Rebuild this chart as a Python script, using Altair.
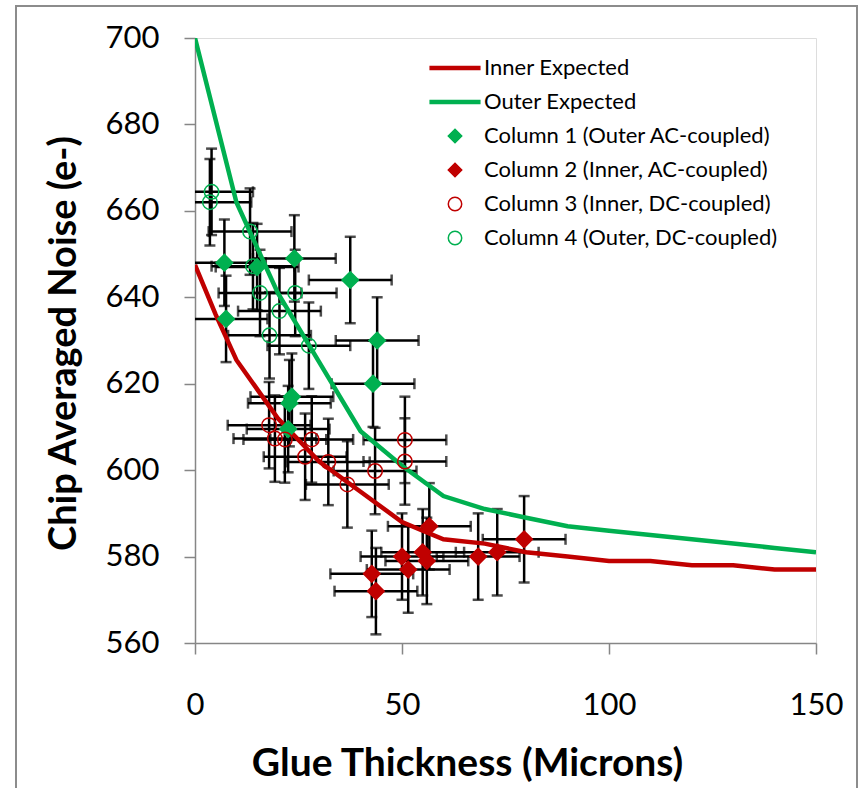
import altair as alt
import pandas as pd

# ---- expected curves ----
inner_x = [0, 5, 10, 20, 30, 40, 50, 60, 70, 80, 90, 100, 110, 120, 130, 140, 150]
inner_y = [647.5, 636, 625.5, 612, 602, 595, 588, 584, 583, 581, 580, 579, 579, 578, 578, 577, 577]
outer_x = [0, 10, 20, 30, 40, 50, 60, 70, 80, 90, 100, 110, 120, 130, 140, 150]
outer_y = [700, 662, 641, 625, 609, 601, 594, 591, 589, 587, 586, 585, 584, 583, 582, 581]

# ---- measured columns ----
col1_x = [7.1, 7.5, 15, 24, 37.5, 44, 43, 23.4, 22.8, 22.5]
col1_y = [648, 635, 647, 649, 644, 630, 620, 617, 615.5, 609.5]
col1_xerr = [10, 10, 10, 10, 10, 10, 10, 10, 10, 10]
col1_yerr = [10, 10, 10, 10, 10, 10, 10, 10, 10, 10]

col2_x = [42.7, 43.7, 50, 51.5, 55, 56, 56.6, 68.4, 73, 79.5]
col2_y = [576, 572, 580, 577, 581, 579, 587, 580, 581, 584]
col2_xerr = [10, 10, 10, 10, 10, 10, 10, 10, 10, 10]
col2_yerr = [10, 10, 10, 10, 10, 10, 10, 10, 10, 10]

col3_x = [17.9, 19.3, 21.7, 28.2, 26.6, 32.2, 36.8, 43.5, 50.7, 50.7]
col3_y = [610.4, 607.3, 607.1, 607.1, 603.1, 601.9, 596.7, 599.8, 607, 602]
col3_xerr = [10, 10, 10, 10, 10, 10, 10, 10, 10, 10]
col3_yerr = [10, 10, 10, 10, 10, 10, 10, 10, 10, 10]

col4_x = [4, 3.6, 13.3, 14, 15.7, 24.2, 20.4, 18, 27.5]
col4_y = [664.4, 662, 655.2, 647.2, 641, 641, 636.8, 631.2, 628.8]
col4_xerr = [10, 10, 10, 10, 10, 10, 10, 10, 10]
col4_yerr = [10, 10, 10, 10, 10, 10, 10, 10, 10]

series_names = [
    "Inner Expected",
    "Outer Expected",
    "Column 1 (Outer AC-coupled)",
    "Column 2 (Inner, AC-coupled)",
    "Column 3 (Inner, DC-coupled)",
    "Column 4 (Outer, DC-coupled)",
]

GREEN = "#00B050"
RED = "#C00000"
GRAY = "#868686"
FONT = "Lato"

# ---- tables ----
curves = pd.concat([
    pd.DataFrame({"x": inner_x, "y": inner_y, "series": series_names[0]}),
    pd.DataFrame({"x": outer_x, "y": outer_y, "series": series_names[1]}),
])

cols = []
for name, xs, ys, xe, ye in [
    (series_names[2], col1_x, col1_y, col1_xerr, col1_yerr),
    (series_names[3], col2_x, col2_y, col2_xerr, col2_yerr),
    (series_names[4], col3_x, col3_y, col3_xerr, col3_yerr),
    (series_names[5], col4_x, col4_y, col4_xerr, col4_yerr),
]:
    d = pd.DataFrame({"x": xs, "y": ys, "xe": xe, "ye": ye})
    d["series"] = name
    cols.append(d)
pts = pd.concat(cols, ignore_index=True)
pts["xlo"] = pts["x"] - pts["xe"]
pts["xhi"] = pts["x"] + pts["xe"]
pts["ylo"] = pts["y"] - pts["ye"]
pts["yhi"] = pts["y"] + pts["ye"]

W, H = 621, 605
PAD_L, PAD_T = 195, 38

xscale = alt.Scale(domain=[0, 150], nice=False, zero=False)
yscale = alt.Scale(domain=[560, 700], nice=False, zero=False)

xaxis = alt.Axis(
    values=[0, 50, 100, 150], grid=False, title="Glue Thickness (Microns)",
    domainColor=GRAY, domainWidth=1.5, tickColor=GRAY, tickWidth=1.5, tickSize=11,
    labelFont=FONT, labelFontSize=31, labelColor="black", labelPadding=36,
    labelFlush=False, labelOverlap=False,
    titleFont=FONT, titleFontSize=39, titleFontWeight="bold", titleColor="black",
    titleX=272, titleY=132, titleBaseline="alphabetic", titleAlign="center",
)
yaxis = alt.Axis(
    values=[560, 580, 600, 620, 640, 660, 680, 700], grid=False,
    title="Chip Averaged Noise (e-)",
    domainColor=GRAY, domainWidth=1.5, tickColor=GRAY, tickWidth=1.5, tickSize=11,
    labelFont=FONT, labelFontSize=31, labelColor="black", labelPadding=25,
    labelFlush=False, labelOverlap=False,
    titleFont=FONT, titleFontSize=38, titleFontWeight="bold", titleColor="black",
    titleX=-120, titleY=305, titleBaseline="alphabetic", titleAlign="center", titleAngle=270,
)

SYM = 180
legend = alt.Legend(
    title=None, orient="none", legendX=234, legendY=13.25, padding=0,
    labelFont=FONT, labelFontSize=22, labelColor="black", labelLimit=400,
    symbolSize=SYM, symbolStrokeWidth=1.5, clipHeight=33.5, rowPadding=0,
    labelOffset=18, symbolOffset=15,
)

LINE_PATH = "M-3.7,-0.22H3.7V0.22H-3.7Z"
stroke_enc = alt.Stroke("series:N", scale=alt.Scale(domain=series_names,
                        range=[RED, GREEN, GREEN, RED, RED, GREEN]), legend=legend)
fill_enc = alt.Fill("series:N", scale=alt.Scale(domain=series_names,
                    range=[RED, GREEN, GREEN, RED, "transparent", "transparent"]), legend=legend)
shape_enc = alt.Shape("series:N", scale=alt.Scale(domain=series_names,
                      range=[LINE_PATH, LINE_PATH, "diamond", "diamond", "circle", "circle"]), legend=legend)

X = lambda f: alt.X(f, type="quantitative", scale=xscale, axis=xaxis)
Y = lambda f: alt.Y(f, type="quantitative", scale=yscale, axis=yaxis)

base = alt.Chart(pts)
BW = 2.5

hbar = base.mark_rule(color="black", strokeWidth=BW, clip=True).encode(
    x=X("xlo"), x2="xhi", y=Y("y"))
vbar = base.mark_rule(color="black", strokeWidth=BW, clip=True).encode(
    x=X("x"), y=Y("ylo"), y2="yhi")
cap_l = base.mark_tick(orient="vertical", size=11, thickness=BW, color="black", clip=True).encode(
    x=X("xlo"), y=Y("y"))
cap_r = base.mark_tick(orient="vertical", size=11, thickness=BW, color="black", clip=True).encode(
    x=X("xhi"), y=Y("y"))
cap_b = base.mark_tick(orient="horizontal", size=11, thickness=BW, color="black", clip=True).encode(
    x=X("x"), y=Y("ylo"))
cap_t = base.mark_tick(orient="horizontal", size=11, thickness=BW, color="black", clip=True).encode(
    x=X("x"), y=Y("yhi"))

lines = alt.Chart(curves).mark_line(strokeWidth=4.5, clip=True).encode(
    x=X("x"), y=Y("y"), stroke=stroke_enc, order="x:Q")

diamonds = alt.Chart(pts[pts["series"].isin(series_names[2:4])]).mark_point(
    size=275, strokeWidth=1.5, opacity=1).encode(
    x=X("x"), y=Y("y"), stroke=stroke_enc, fill=fill_enc, shape=shape_enc)
circles = alt.Chart(pts[pts["series"].isin(series_names[4:6])]).mark_point(
    size=210, strokeWidth=1.5, opacity=1).encode(
    x=X("x"), y=Y("y"), stroke=stroke_enc, fill=fill_enc, shape=shape_enc)

border = alt.Chart(pd.DataFrame({"a": [0]})).mark_rect(
    fill="transparent", stroke="#8C8C8C", strokeWidth=2, clip=False).encode(
    x=alt.value(16 - PAD_L), x2=alt.value(857 - PAD_L),
    y=alt.value(6 - PAD_T), y2=alt.value(800 - PAD_T))

chart = alt.layer(
    border, hbar, vbar, cap_l, cap_r, cap_b, cap_t, lines, diamonds, circles
).properties(
    width=W, height=H, autosize="none",
    padding={"left": PAD_L, "top": PAD_T, "right": 859 - PAD_L - W, "bottom": 788 - PAD_T - H},
).configure_view(stroke=None).configure_legend(symbolSize=SYM).configure(background="white")

chart.save("out.html", embed_options={"renderer": "svg", "actions": False})
